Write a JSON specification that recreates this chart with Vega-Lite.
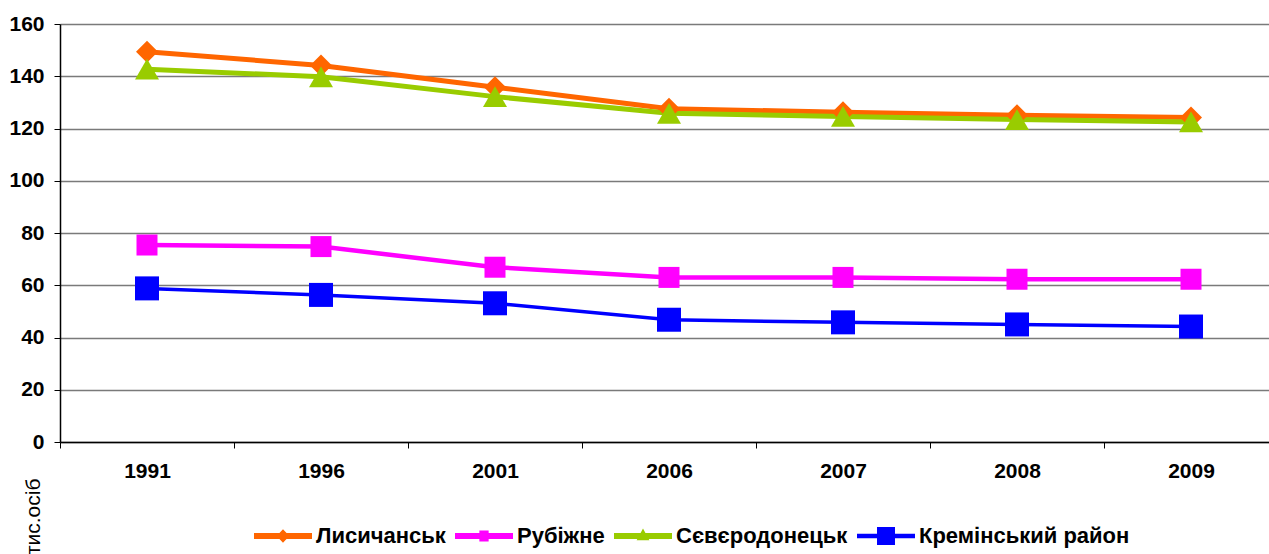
{
  "$schema": "https://vega.github.io/schema/vega-lite/v6.json",
  "width": 1218,
  "height": 418,
  "autosize": "none",
  "padding": {"left": 60, "top": 24, "right": -9, "bottom": 112},
  "background": "white",
  "config": {
    "view": {"stroke": null},
    "font": "Liberation Sans"
  },
  "data": {
    "values": [
      {"series": "Лисичанськ", "year": "1991", "value": 149.4},
      {"series": "Лисичанськ", "year": "1996", "value": 144.1},
      {"series": "Лисичанськ", "year": "2001", "value": 135.8},
      {"series": "Лисичанськ", "year": "2006", "value": 127.6},
      {"series": "Лисичанськ", "year": "2007", "value": 126.2},
      {"series": "Лисичанськ", "year": "2008", "value": 125.1},
      {"series": "Лисичанськ", "year": "2009", "value": 124.2},
      {"series": "Рубіжне", "year": "1991", "value": 75.4},
      {"series": "Рубіжне", "year": "1996", "value": 74.8},
      {"series": "Рубіжне", "year": "2001", "value": 66.9},
      {"series": "Рубіжне", "year": "2006", "value": 63.0},
      {"series": "Рубіжне", "year": "2007", "value": 63.0},
      {"series": "Рубіжне", "year": "2008", "value": 62.3},
      {"series": "Рубіжне", "year": "2009", "value": 62.3},
      {"series": "Сєвєродонецьк", "year": "1991", "value": 142.7},
      {"series": "Сєвєродонецьк", "year": "1996", "value": 139.8},
      {"series": "Сєвєродонецьк", "year": "2001", "value": 132.2},
      {"series": "Сєвєродонецьк", "year": "2006", "value": 125.8},
      {"series": "Сєвєродонецьк", "year": "2007", "value": 124.6},
      {"series": "Сєвєродонецьк", "year": "2008", "value": 123.4},
      {"series": "Сєвєродонецьк", "year": "2009", "value": 122.5},
      {"series": "Кремінський район", "year": "1991", "value": 58.8},
      {"series": "Кремінський район", "year": "1996", "value": 56.3},
      {"series": "Кремінський район", "year": "2001", "value": 53.1},
      {"series": "Кремінський район", "year": "2006", "value": 46.8},
      {"series": "Кремінський район", "year": "2007", "value": 45.8},
      {"series": "Кремінський район", "year": "2008", "value": 45.0},
      {"series": "Кремінський район", "year": "2009", "value": 44.2}
    ]
  },
  "encoding": {
    "x": {
      "field": "year",
      "type": "ordinal",
      "scale": {
        "type": "band",
        "domain": ["1991", "1996", "2001", "2006", "2007", "2008", "2009"],
        "paddingInner": 0,
        "paddingOuter": 0
      },
      "axis": {
        "title": null,
        "labelAngle": 0,
        "labelFont": "Liberation Sans",
        "labelFontSize": 21,
        "labelFontWeight": "bold",
        "labelColor": "black",
        "labelPadding": 12,
        "tickBand": "extent",
        "tickSize": 6,
        "tickColor": "black",
        "tickWidth": 1,
        "domainColor": "black",
        "domainWidth": 1.5,
        "grid": false
      }
    },
    "y": {
      "field": "value",
      "type": "quantitative",
      "scale": {"domain": [0, 160], "nice": false},
      "axis": {
        "values": [0, 20, 40, 60, 80, 100, 120, 140, 160],
        "title": "тис.осіб",
        "titleFont": "Liberation Sans",
        "titleFontSize": 21,
        "titleFontWeight": "normal",
        "titleColor": "black",
        "titleAngle": -90,
        "titleAlign": "right",
        "titleBaseline": "alphabetic",
        "titleX": -21,
        "titleY": 454,
        "labelFont": "Liberation Sans",
        "labelFontSize": 21,
        "labelFontWeight": "bold",
        "labelColor": "black",
        "labelPadding": 10,
        "tickSize": 6,
        "tickColor": "black",
        "domainColor": "black",
        "domainWidth": 1.5,
        "grid": true,
        "gridColor": "#7a7a7a",
        "gridWidth": 1.5
      }
    }
  },
  "layer": [
    {
      "mark": {"type": "line"},
      "encoding": {
        "color": {
          "field": "series",
          "type": "nominal",
          "scale": {
            "domain": ["Лисичанськ", "Рубіжне", "Сєвєродонецьк", "Кремінський район"],
            "range": ["#FF6600", "#FF00FF", "#99CC00", "#0000FF"]
          },
          "legend": null
        },
        "strokeWidth": {
          "field": "series",
          "type": "nominal",
          "scale": {
            "type": "ordinal",
            "domain": ["Лисичанськ", "Рубіжне", "Сєвєродонецьк", "Кремінський район"],
            "range": [5, 4.5, 5, 3.5]
          },
          "legend": null
        }
      }
    },
    {
      "mark": {"type": "point", "filled": true, "opacity": 1, "strokeWidth": 0},
      "encoding": {
        "color": {
          "field": "series",
          "type": "nominal",
          "scale": {
            "domain": ["Лисичанськ", "Рубіжне", "Сєвєродонецьк", "Кремінський район"],
            "range": ["#FF6600", "#FF00FF", "#99CC00", "#0000FF"]
          },
          "legend": null
        },
        "shape": {
          "field": "series",
          "type": "nominal",
          "scale": {
            "domain": ["Лисичанськ", "Рубіжне", "Сєвєродонецьк", "Кремінський район"],
            "range": ["diamond", "square", "triangle-up", "square"]
          },
          "legend": null
        },
        "size": {
          "field": "series",
          "type": "nominal",
          "scale": {
            "type": "ordinal",
            "domain": ["Лисичанськ", "Рубіжне", "Сєвєродонецьк", "Кремінський район"],
            "range": [484, 441, 576, 576]
          },
          "legend": null
        }
      }
    },
    {
      "transform": [{"filter": "false"}],
      "mark": {"type": "point", "filled": true, "opacity": 1, "strokeWidth": 0},
      "encoding": {
        "color": {
          "field": "series",
          "type": "nominal",
          "scale": {
            "domain": ["Лисичанськ", "Рубіжне", "Сєвєродонецьк", "Кремінський район"],
            "range": ["#FF6600", "#FF00FF", "#99CC00", "#0000FF"]
          },
          "legend": {
            "orient": "none",
            "legendX": 194,
            "legendY": 483,
            "direction": "horizontal",
            "columns": 4,
            "title": null,
            "padding": 0,
            "symbolSize": 3364,
            "symbolStrokeWidth": 0,
            "symbolOpacity": 1,
            "labelFont": "Liberation Sans",
            "labelFontSize": 22,
            "labelFontWeight": "bold",
            "labelColor": "black",
            "labelOffset": 4,
            "labelLimit": 400,
            "columnPadding": 9
          }
        },
        "shape": {
          "field": "series",
          "type": "nominal",
          "scale": {
            "domain": ["Лисичанськ", "Рубіжне", "Сєвєродонецьк", "Кремінський район"],
            "range": [
              "M-1,-0.1H1V0.1H-1Z M0,-0.23L0.22,0L0,0.23L-0.22,0Z",
              "M-1,-0.1H1V0.1H-1Z M-0.16,-0.19H0.16V0.19H-0.16Z",
              "M-1,-0.1H1V0.1H-1Z M0,-0.26L0.22,0.15H-0.22Z",
              "M-1,-0.08H1V0.08H-1Z M-0.31,-0.31H0.31V0.31H-0.31Z"
            ]
          },
          "legend": {
            "orient": "none",
            "legendX": 194,
            "legendY": 483,
            "direction": "horizontal",
            "columns": 4,
            "title": null,
            "padding": 0,
            "symbolSize": 3364,
            "symbolStrokeWidth": 0,
            "symbolOpacity": 1,
            "labelFont": "Liberation Sans",
            "labelFontSize": 22,
            "labelFontWeight": "bold",
            "labelColor": "black",
            "labelOffset": 4,
            "labelLimit": 400,
            "columnPadding": 9
          }
        }
      }
    }
  ],
  "resolve": {"scale": {"color": "independent", "shape": "independent"}}
}
